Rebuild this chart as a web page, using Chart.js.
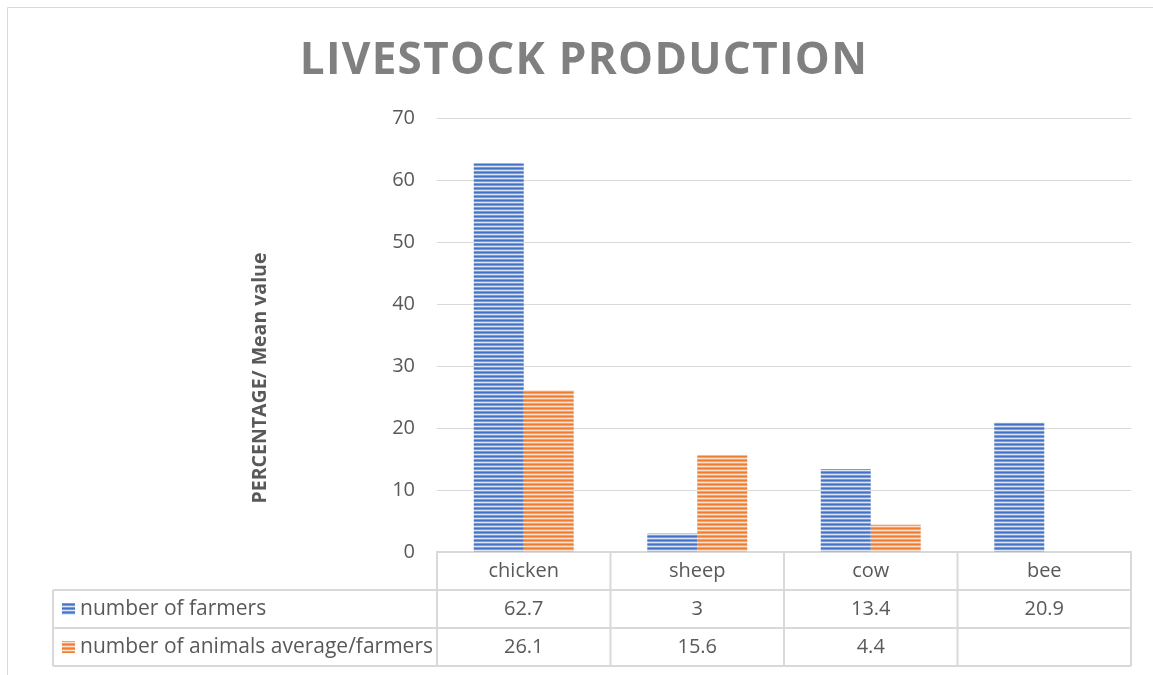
<!DOCTYPE html>
<html lang="en">
<head>
<meta charset="UTF-8">
<title>Livestock production</title>
<style>
  html, body { margin: 0; padding: 0; background: #fff; }
  canvas { display: block; }
</style>
</head>
<body>
<canvas id="myChart" width="1153" height="675"></canvas>

<script src="https://cdn.jsdelivr.net/npm/chart.js"></script>
<script>
// data
const categories = ['chicken', 'sheep', 'cow', 'bee'];
const seriesNames = ['number of farmers', 'number of animals average/farmers'];
const farmers = [62.7, 3, 13.4, 20.9];
const animals = [26.1, 15.6, 4.4, null];
const yTicks = [0, 10, 20, 30, 40, 50, 60, 70];

const chartTitle = 'LIVESTOCK PRODUCTION';
const yTitle = 'PERCENTAGE/ Mean value';

const grey = '#595959';
const lineGrey = '#d9d9d9';

// narrow horizontal stripes like the excel pattern fill
function stripes(dark, mid, light) {
    const c = document.createElement('canvas');
    c.width = 4; c.height = 4;
    const g = c.getContext('2d');
    g.fillStyle = light; g.fillRect(0, 0, 4, 4);
    g.fillStyle = mid; g.fillRect(0, 1, 4, 1); g.fillRect(0, 3, 4, 1);
    g.fillStyle = dark; g.fillRect(0, 0, 4, 1);
    return g.createPattern(c, 'repeat');
}
const blueFill = stripes('#4472c4', '#7b9bd6', '#dde6f6');
const orangeFill = stripes('#ed7d31', '#f2a26c', '#fbe0cd');
const fills = [blueFill, orangeFill];

// title, axis title, frame and the data table under the plot
const extras = {
    id: 'extras',
    afterDraw(chart) {
        const { ctx, chartArea, scales: { x } } = chart;
        ctx.save();

        // outer frame (only left and top show in the picture)
        ctx.strokeStyle = lineGrey;
        ctx.lineWidth = 1;
        ctx.beginPath();
        ctx.moveTo(7.5, 675); ctx.lineTo(7.5, 7.5); ctx.lineTo(1153, 7.5);
        ctx.stroke();

        // chart title
        ctx.fillStyle = '#808080';
        ctx.font = 'bold 44px "Open Sans"';
        ctx.letterSpacing = '1.3px';
        ctx.textAlign = 'center';
        ctx.textBaseline = 'alphabetic';
        ctx.fillText(chartTitle, 584, 74);
        ctx.letterSpacing = '0px';

        // y axis title
        ctx.save();
        ctx.translate(266, 378);
        ctx.rotate(-Math.PI / 2);
        ctx.fillStyle = grey;
        ctx.font = 'bold 19.5px "Open Sans"';
        ctx.fillText(yTitle, 0, 0);
        ctx.restore();

        // data table
        const rowH = 38;
        const top = chartArea.bottom;
        const labelLeft = 53;
        const colW = (x.right - x.left) / categories.length;
        const bottom = top + rowH * 3;

        ctx.strokeStyle = lineGrey;
        ctx.lineWidth = 2;
        ctx.beginPath();
        for (let r = 1; r <= 3; r++) {
            ctx.moveTo(labelLeft, top + rowH * r);
            ctx.lineTo(x.right, top + rowH * r);
        }
        ctx.moveTo(labelLeft, top + rowH);
        ctx.lineTo(labelLeft, bottom);
        for (let i = 0; i <= categories.length; i++) {
            const xx = x.left + colW * i;
            ctx.moveTo(xx, top);
            ctx.lineTo(xx, bottom);
        }
        ctx.stroke();

        ctx.font = '20px "Open Sans"';
        ctx.fillStyle = grey;
        ctx.textBaseline = 'middle';
        ctx.textAlign = 'center';
        categories.forEach((c, i) => {
            const cx = x.getPixelForValue(i);
            ctx.fillText(c, cx, top + rowH / 2);
            ctx.fillText(farmers[i] ?? '', cx, top + rowH * 1.5);
            ctx.fillText(animals[i] ?? '', cx, top + rowH * 2.5);
        });

        // legend keys in the first column
        ctx.textAlign = 'left';
        ctx.font = '21px "Open Sans"';
        seriesNames.forEach((name, s) => {
            const cy = top + rowH * (s + 1.5);
            ctx.fillStyle = fills[s];
            ctx.fillRect(62, cy - 6, 13, 12);
            ctx.fillStyle = grey;
            ctx.fillText(name, 80, cy);
        });

        ctx.restore();
    }
};

new Chart(document.getElementById('myChart'), {
    type: 'bar',
    data: {
        labels: categories,
        datasets: [{
            label: seriesNames[0],
            data: farmers,
            backgroundColor: blueFill,
            borderWidth: 0
        }, {
            label: seriesNames[1],
            data: animals,
            backgroundColor: orangeFill,
            borderWidth: 0
        }]
    },
    options: {
        responsive: false,
        animation: false,
        datasets: {
            bar: { categoryPercentage: 0.576, barPercentage: 1 }
        },
        layout: {
            padding: { left: 0, top: 118, right: 22, bottom: 123 }
        },
        plugins: {
            legend: { display: false },
            title: { display: false },
            tooltip: { enabled: false }
        },
        scales: {
            x: {
                grid: { display: false },
                ticks: { display: false },
                border: { display: true, color: lineGrey, width: 2 },
                afterFit(scale) { scale.height = 0; }
            },
            y: {
                min: 0,
                max: 70,
                afterFit(scale) { scale.width = 437; },
                afterBuildTicks(scale) { scale.ticks = yTicks.map(v => ({ value: v })); },
                grid: { color: lineGrey, lineWidth: 1, drawTicks: false },
                border: { display: false },
                ticks: {
                    padding: 22,
                    color: grey,
                    font: { family: 'Open Sans', size: 20 }
                }
            }
        }
    },
    plugins: [extras]
});
</script>
</body>
</html>
